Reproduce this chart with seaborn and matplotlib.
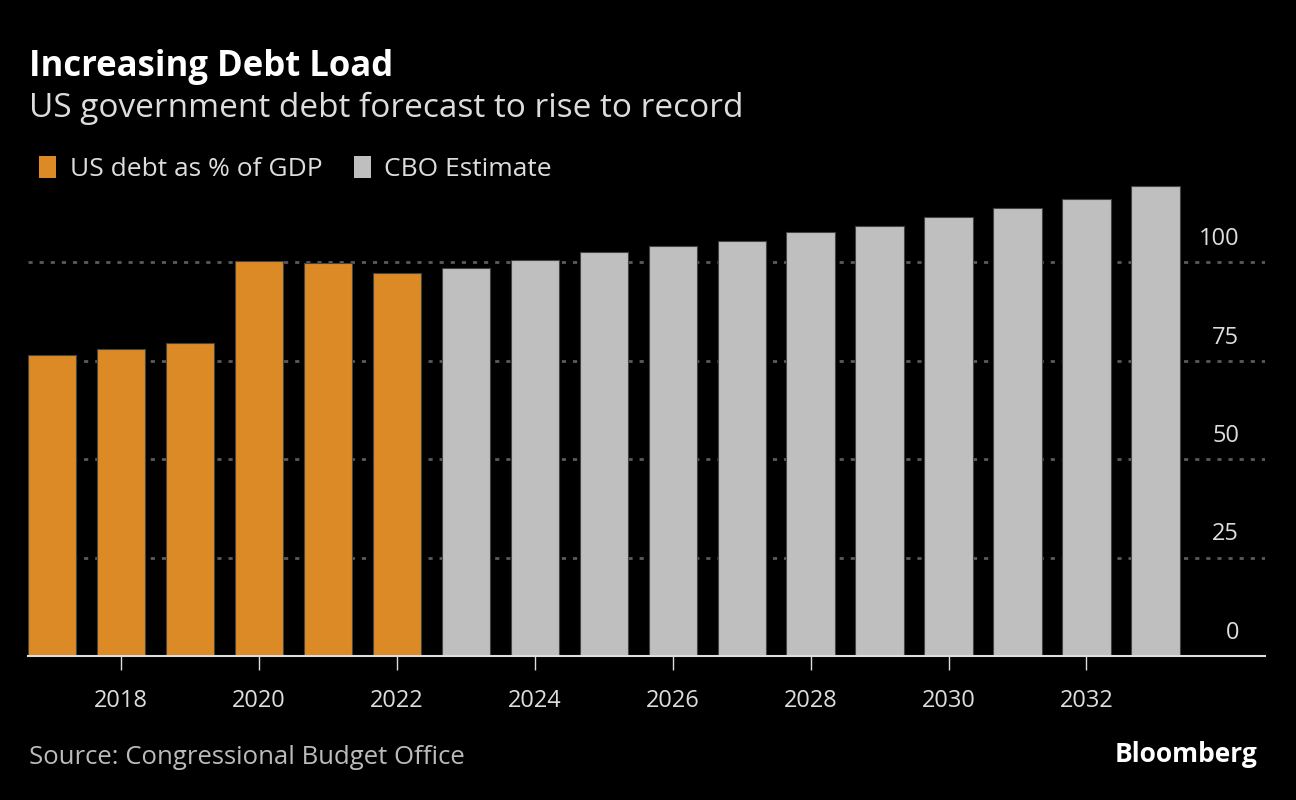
import pandas as pd
import matplotlib.pyplot as plt
import matplotlib.transforms as mtransforms
import seaborn as sns

# Data
years = list(range(2017, 2034))
debt_pct = [76.5, 77.9, 79.4, 100.3, 99.7, 97.2, 98.5, 100.5, 102.5, 104.1,
            105.3, 107.6, 109.2, 111.5, 113.7, 116.0, 119.3]
series = ["US debt as % of GDP"] * 6 + ["CBO Estimate"] * 11
colors = {"US debt as % of GDP": "#DB8A25", "CBO Estimate": "#BFBFBF"}
y_ticks = [0, 25, 50, 75, 100]
x_ticks = list(range(2018, 2033, 2))

df = pd.DataFrame({"Year": years, "Debt": debt_pct, "Series": series})

sns.set_style("dark")
plt.rcParams["font.family"] = ["Liberation Sans Narrow", "Open Sans", "DejaVu Sans"]

fig = plt.figure(figsize=(12.96, 8), dpi=100, facecolor="black")
ax = fig.add_axes([0.0216, 0.18, 0.9545, 0.591])
ax.set_facecolor("black")

sns.barplot(data=df, x="Year", y="Debt", hue="Series", palette=colors,
            native_scale=True, dodge=False, width=0.7, ax=ax, saturation=1,
            edgecolor="#444444", linewidth=0.8, legend=True)

ax.set_xlim(2017 - 0.35, 2033 + 1.59)
ax.set_ylim(0, 120)

# dotted grid
for v in y_ticks[1:]:
    ax.axhline(v, color="#5A5A5A", linestyle=(0, (1.5, 2.5)), linewidth=2, zorder=0)
for s in ["top", "right", "left"]:
    ax.spines[s].set_visible(False)
ax.spines["bottom"].set_color("#DDDDDD")
ax.spines["bottom"].set_linewidth(1.5)
ax.grid(False)

ax.set_xticks(x_ticks)
ax.set_xticklabels([str(x) for x in x_ticks], color="#DDDDDD", fontsize=17)
ax.tick_params(axis="x", length=10, width=1, color="#DDDDDD", pad=14, bottom=True)
ax.set_yticks([])
ax.set_xlabel("")
ax.set_ylabel("")

# y labels sit above the gridlines on the right
offset = mtransforms.offset_copy(ax.get_yaxis_transform(), fig=fig, x=-26, y=11, units="dots")
for v in y_ticks:
    ax.text(1.0, v, str(v), transform=offset, ha="right", va="bottom",
            color="#DDDDDD", fontsize=17)

# legend
sns.move_legend(ax, "upper left", bbox_to_anchor=(0.012, 0.835),
                bbox_transform=fig.transFigure, ncol=2, frameon=False, title=None,
                fontsize=19, handlelength=0.65, handleheight=0.9, handletextpad=0.5,
                columnspacing=1.2, labelcolor="#DDDDDD")
for h in ax.get_legend().legend_handles:
    h.set_edgecolor("none")

fig.text(0.022, 0.916, "Increasing Debt Load", color="white", fontsize=25,
         fontweight="bold", va="center")
fig.text(0.022, 0.865, "US government debt forecast to rise to record", color="#DDDDDD",
         fontsize=24, va="center")
fig.text(0.022, 0.053, "Source: Congressional Budget Office", color="#BBBBBB",
         fontsize=18.5, va="center")
fig.text(0.97, 0.057, "Bloomberg", color="white", fontsize=19, fontweight="bold",
         ha="right", va="center")

fig.savefig("out.png", dpi=100, facecolor="black")
